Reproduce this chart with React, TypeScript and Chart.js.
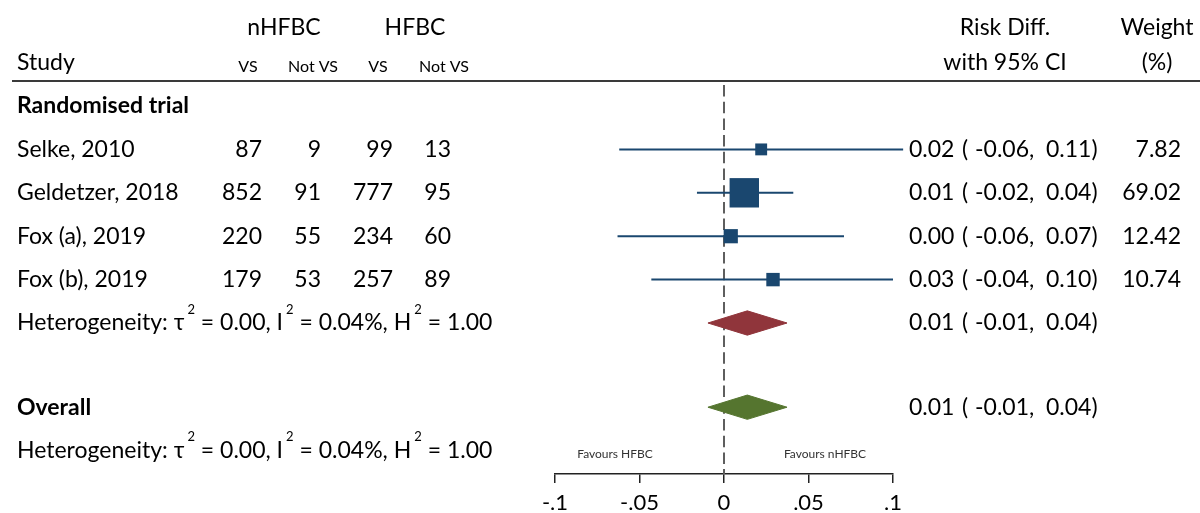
import React, { useEffect, useRef } from "react";
import { Chart, registerables } from "chart.js";
Chart.register(...registerables);

// ---------- data ----------
const studies = ["Selke, 2010", "Geldetzer, 2018", "Fox (a), 2019", "Fox (b), 2019"];
const nhfbcVS = [87, 852, 220, 179];
const nhfbcNotVS = [9, 91, 55, 53];
const hfbcVS = [99, 777, 234, 257];
const hfbcNotVS = [13, 95, 60, 89];
const riskDiff = [0.022, 0.012, 0.004, 0.029];
const ciLow = [-0.062, -0.016, -0.063, -0.043];
const ciHigh = [0.106, 0.041, 0.071, 0.1];
const weights = [7.82, 69.02, 12.42, 10.74];
const subgroupPooled = [0.0138, -0.0095, 0.0373]; // estimate, low, high
const overallPooled = [0.0138, -0.0095, 0.0373];
const heterogeneity = ["0.00", "0.04%", "1.00"]; // tau2, I2, H2
const xTicks = [-0.1, -0.05, 0, 0.05, 0.1];
const xTickLabels = ["-.1", "-.05", "0", ".05", ".1"];
const groupLabel = "Randomised trial";
const overallLabel = "Overall";

// ---------- row layout (in row units on the y scale) ----------
const ROW_H1 = -1.811;
const ROW_H2 = -1.002;
const ROW_GROUP = 0;
const studyRows = [1, 2, 3, 4];
const ROW_SUB = 5;
const ROW_OVERALL = 6.94;
const ROW_OVERALL_HET = 7.93;
const DIAMOND_HALF = 0.28;

const NAVY = "#1a476f";
const MAROON = "#90353b";
const GREEN = "#55752f";
const FONT = "Lato";

const fmt = (v: number) => v.toFixed(2);
const f = (size: number, bold = false) => `${bold ? "bold " : ""}${size}px ${FONT}`;

function txt(ctx: CanvasRenderingContext2D, s: string, x: number, y: number, align: CanvasTextAlign, font: string, color = "#000") {
  ctx.font = font;
  ctx.fillStyle = color;
  ctx.textAlign = align;
  ctx.textBaseline = "middle";
  ctx.fillText(s, x, y);
}

function drawHet(ctx: CanvasRenderingContext2D, x0: number, y: number) {
  const parts: [string, boolean][] = [
    ["Heterogeneity: τ", false],
    ["2", true],
    [" = " + heterogeneity[0] + ", I", false],
    ["2", true],
    [" = " + heterogeneity[1] + ", H", false],
    ["2", true],
    [" = " + heterogeneity[2], false],
  ];
  let x = x0;
  ctx.textAlign = "left";
  ctx.textBaseline = "middle";
  ctx.fillStyle = "#000";
  for (const [s, sup] of parts) {
    if (sup) {
      ctx.font = f(13);
      x += 3;
      ctx.fillText(s, x, y - 13);
      x += ctx.measureText(s).width;
    } else {
      ctx.font = f(23);
      ctx.fillText(s, x, y);
      x += ctx.measureText(s).width;
    }
  }
}

function rdPieces(ctx: CanvasRenderingContext2D, est: number, lo: number, hi: number, y: number) {
  txt(ctx, fmt(est), 909, y, "left", f(23));
  txt(ctx, "(", 962, y, "left", f(23));
  txt(ctx, fmt(lo) + ",", 975, y, "left", f(23));
  txt(ctx, fmt(hi) + ")", 1046, y, "left", f(23));
}

const forestPlugin = {
  id: "forestText",
  beforeDatasetsDraw(chart: any) {
    const { ctx, scales, chartArea } = chart;
    const px = scales.x.getPixelForValue(0);
    ctx.save();
    ctx.strokeStyle = "#5e5e5e";
    ctx.lineWidth = 2;
    ctx.setLineDash([11.5, 5.2]);
    ctx.beginPath();
    ctx.moveTo(px, 85);
    ctx.lineTo(px, chartArea.bottom);
    ctx.stroke();
    ctx.restore();
  },
  afterDraw(chart: any) {
    const { ctx, scales } = chart;
    const Y = (r: number) => scales.y.getPixelForValue(r);
    ctx.save();
    // header
    txt(ctx, "nHFBC", 284, Y(ROW_H1), "center", f(23));
    txt(ctx, "HFBC", 415, Y(ROW_H1), "center", f(23));
    txt(ctx, "Risk Diff.", 1005, Y(ROW_H1), "center", f(23));
    txt(ctx, "Weight", 1157, Y(ROW_H1), "center", f(23));
    txt(ctx, "Study", 17, Y(ROW_H2), "left", f(23));
    txt(ctx, "VS", 248, Y(ROW_H2) + 4, "center", f(16));
    txt(ctx, "Not VS", 313, Y(ROW_H2) + 4, "center", f(16));
    txt(ctx, "VS", 378, Y(ROW_H2) + 4, "center", f(16));
    txt(ctx, "Not VS", 444, Y(ROW_H2) + 4, "center", f(16));
    txt(ctx, "with 95% CI", 1005, Y(ROW_H2), "center", f(23));
    txt(ctx, "(%)", 1157, Y(ROW_H2), "center", f(23));
    // header rule
    ctx.strokeStyle = "#3a3a3a";
    ctx.lineWidth = 2;
    ctx.beginPath();
    ctx.moveTo(12, 81);
    ctx.lineTo(1200, 81);
    ctx.stroke();

    txt(ctx, groupLabel, 17, Y(ROW_GROUP), "left", f(23, true));
    studies.forEach((s, i) => {
      const y = Y(studyRows[i]);
      txt(ctx, s, 17, y, "left", f(23));
      txt(ctx, String(nhfbcVS[i]), 262, y, "right", f(23));
      txt(ctx, String(nhfbcNotVS[i]), 321, y, "right", f(23));
      txt(ctx, String(hfbcVS[i]), 393, y, "right", f(23));
      txt(ctx, String(hfbcNotVS[i]), 451, y, "right", f(23));
      rdPieces(ctx, riskDiff[i], ciLow[i], ciHigh[i], y);
      txt(ctx, weights[i].toFixed(2), 1181, y, "right", f(23));
    });
    drawHet(ctx, 17, Y(ROW_SUB));
    rdPieces(ctx, subgroupPooled[0], subgroupPooled[1], subgroupPooled[2], Y(ROW_SUB));
    txt(ctx, overallLabel, 17, Y(ROW_OVERALL), "left", f(23, true));
    rdPieces(ctx, overallPooled[0], overallPooled[1], overallPooled[2], Y(ROW_OVERALL));
    drawHet(ctx, 17, Y(ROW_OVERALL_HET));

    // favours labels
    const fy = 454;
    txt(ctx, "Favours HFBC", 615, fy, "center", f(12), "#333");
    txt(ctx, "Favours nHFBC", 825, fy, "center", f(12), "#333");
    ctx.restore();
  },
};

function diamond(p: number[], row: number, color: string) {
  return {
    type: "line" as const,
    data: [
      { x: p[1], y: row },
      { x: p[0], y: row - DIAMOND_HALF },
      { x: p[2], y: row },
      { x: p[0], y: row + DIAMOND_HALF },
      { x: p[1], y: row },
    ],
    borderColor: color,
    backgroundColor: color,
    borderWidth: 1,
    fill: "shape",
    pointRadius: 0,
    tension: 0,
    clip: false,
    order: 2,
  };
}

export default function App() {
  const ref = useRef<HTMLCanvasElement>(null);
  useEffect(() => {
    if (!ref.current) return;
    const maxW = Math.max(...weights);
    const sides = weights.map((w) => 3 + 26.4 * Math.sqrt(w / maxW));
    const datasets: any[] = [
      {
        type: "scatter",
        data: riskDiff.map((v, i) => ({ x: v, y: studyRows[i] })),
        pointStyle: "rect",
        pointRadius: sides.map((s) => s / Math.SQRT2),
        pointHoverRadius: sides.map((s) => s / Math.SQRT2),
        backgroundColor: NAVY,
        borderColor: NAVY,
        borderWidth: 0,
        clip: false,
        order: 0,
      },
      ...studies.map((_, i) => ({
        type: "line",
        data: [
          { x: ciLow[i], y: studyRows[i] },
          { x: ciHigh[i], y: studyRows[i] },
        ],
        borderColor: NAVY,
        borderWidth: 2,
        pointRadius: 0,
        clip: false,
        order: 1,
      })),
      diamond(subgroupPooled, ROW_SUB, MAROON),
      diamond(overallPooled, ROW_OVERALL, GREEN),
    ];
    const chart = new Chart(ref.current, {
      type: "scatter",
      data: { datasets },
      options: {
        animation: false,
        responsive: false,
        devicePixelRatio: 1,
        layout: { autoPadding: false, padding: { left: 555, right: 307, top: 10, bottom: 0 } },
        plugins: { legend: { display: false }, tooltip: { enabled: false } },
        scales: {
          x: {
            type: "linear",
            min: -0.1,
            max: 0.1,
            afterBuildTicks: (s: any) => {
              s.ticks = xTicks.map((v) => ({ value: v }));
            },
            afterFit: (s: any) => {
              s.height = 39;
            },
            ticks: {
              callback: (_v: any, i: number) => xTickLabels[i],
              font: { family: FONT, size: 22 },
              color: "#000",
              padding: 7,
              maxRotation: 0,
              autoSkip: false,
            },
            grid: { drawOnChartArea: false, drawTicks: true, tickLength: 9, color: "#222", lineWidth: 1.5 },
            border: { display: true, color: "#222", width: 1.5 },
          },
          y: { type: "linear", display: false, min: -2.212, max: 8.479, reverse: true },
        },
      } as any,
      plugins: [forestPlugin],
    });
    return () => chart.destroy();
  }, []);
  return (
    <div style={{ position: "fixed", left: 0, top: 0, width: 1200, height: 513, background: "#fff" }}>
      <canvas ref={ref} width={1200} height={513} style={{ width: 1200, height: 513 }} />
    </div>
  );
}
